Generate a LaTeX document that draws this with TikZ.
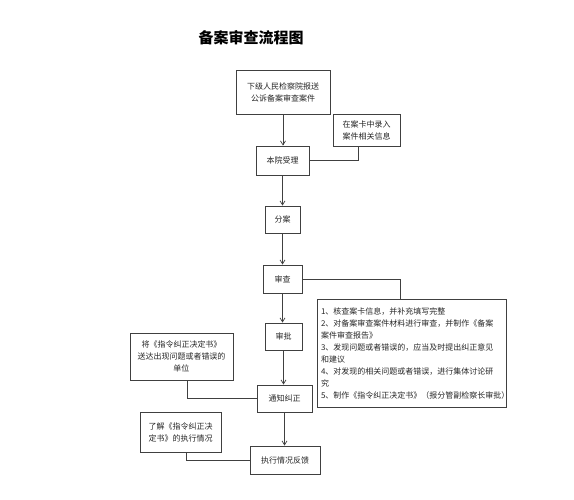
\documentclass[tikz,border=0pt]{standalone}
\usepackage{fontspec}
\usepackage{tikz}
\usetikzlibrary{arrows.meta}
\setmainfont{Noto Sans CJK SC}
\definecolor{boxgray}{RGB}{64,64,64}

\begin{document}
\begin{tikzpicture}[x=1pt, y=-1pt,
  box/.style={draw=boxgray, line width=0.9pt, align=center, inner sep=0pt,
    font=\fontsize{8}{12}\selectfont, text=black!85},
  link/.style={draw=boxgray, line width=0.7pt},
  arr/.style={link, -{Straight Barb[length=4pt, width=5pt]}}]
\useasboundingbox (0,0) rectangle (574,500);
\node [font=\fontsize{15}{18}\selectfont\bfseries] (title) at (251,38) {备案审查流程图};
% main column
\node [box, minimum width=94pt, minimum height=44pt] (baosong) at (283,92) {下级人民检察院报送\\公诉备案审查案件};
\node [box, minimum width=53pt, minimum height=29pt] (benyuan) at (282.5,160.5) {本院受理};
\node [box, minimum width=35pt, minimum height=27pt] (fenan) at (282.5,219.5) {分案};
\node [box, minimum width=39pt, minimum height=28pt] (shencha) at (282.5,279) {审查};
\node [box, minimum width=37pt, minimum height=27pt] (shenpi) at (283.5,336.5) {审批};
\node [box, minimum width=55pt, minimum height=27pt] (tongzhi) at (284.5,398.5) {通知纠正};
\node [box, minimum width=70pt, minimum height=28pt] (fankui) at (285,460) {执行情况反馈};
% side boxes
\node [box, minimum width=67pt, minimum height=32pt] (luru) at (366.5,130) {在案卡中录入\\案件相关信息};
\node [box, align=left, text width=181pt, inner xsep=4pt, minimum height=108pt] (detail) at (411.5,353) {1、核查案卡信息，并补充填写完整\\2、对备案审查案件材料进行审查，并制作《备案\\案件审查报告》\\3、发现问题或者错误的，应当及时提出纠正意见\\和建议\\4、对发现的相关问题或者错误，进行集体讨论研\\究\\5、制作《指令纠正决定书》（报分管副检察长审批）};
\node [box, minimum width=103pt, minimum height=47pt] (jiang) at (181.5,356.5) {将《指令纠正决定书》\\送达出现问题或者错误的\\单位};
\node [box, minimum width=81pt, minimum height=40pt] (liaojie) at (180.5,432) {了解《指令纠正决\\定书》的执行情况};
% arrows down the column
\draw [arr] (baosong.south) -- (baosong.south |- benyuan.north);
\draw [arr] (benyuan.south) -- (benyuan.south |- fenan.north);
\draw [arr] (fenan.south) -- (fenan.south |- shencha.north);
\draw [arr] (shencha.south) -- (shencha.south |- shenpi.north);
\draw [arr] (shenpi.south) -- (shenpi.south |- tongzhi.north);
\draw [arr] (tongzhi.south) -- (tongzhi.south |- fankui.north);
% plain links to the side boxes
\draw [link] (benyuan.east) -| ([xshift=-8pt]luru.south);
\draw [link] (shencha.east) -| ([xshift=-11pt]detail.north);
\draw [link] ([xshift=6pt]jiang.south) |- (tongzhi.west);
\draw [link] ([xshift=6pt]liaojie.south) |- (fankui.west);
\end{tikzpicture}
\end{document}
